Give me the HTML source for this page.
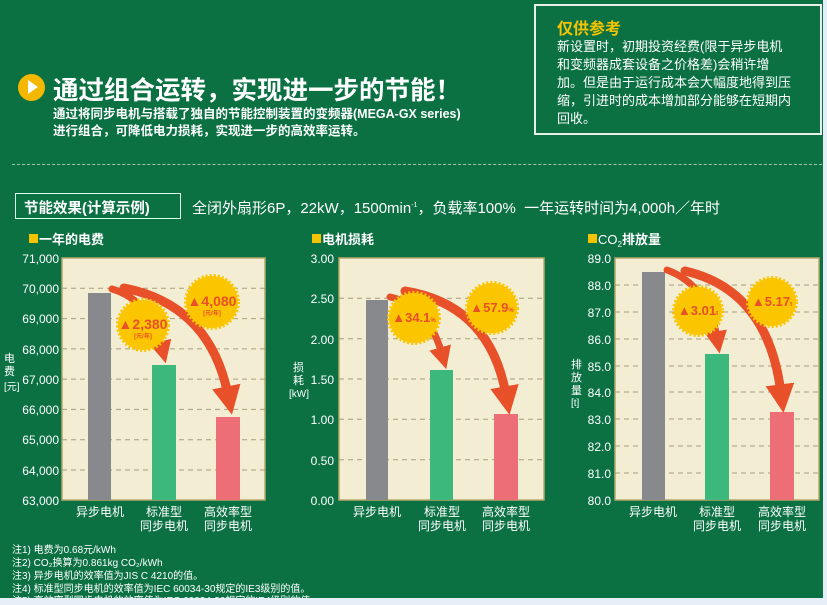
<!DOCTYPE html>
<html><head><meta charset="utf-8"><style>
body{margin:0;width:827px;height:605px;background:#e6eef8;overflow:hidden;font-family:"Liberation Sans","Noto Sans CJK SC",sans-serif;}
#g{position:absolute;left:0;top:0;width:823px;height:598px;background:#0b7143;}
.t{position:absolute;color:#fff;white-space:nowrap;}
</style></head><body>
<div id="g"></div>
<div style="position:absolute;left:534px;top:4px;width:284px;height:127px;border:2px solid #e8efe8;"></div>
<div class="t" style="left:557px;top:15px;font-size:16px;font-weight:bold;color:#f5c400;">仅供参考</div>
<div class="t" style="left:557px;top:38px;font-size:13px;line-height:18px;">新设置时，初期投资经费(限于异步电机<br>和变频器成套设备之价格差)会稍许增<br>加。但是由于运行成本会大幅度地得到压<br>缩，引进时的成本增加部分能够在短期内<br>回收。</div>
<div style="position:absolute;left:18px;top:74px;width:27px;height:27px;border-radius:50%;background:#f5b800;"></div>
<div style="position:absolute;left:28px;top:80px;border-left:10px solid #fff;border-top:7.5px solid transparent;border-bottom:7.5px solid transparent;"></div>
<div class="t" style="left:53px;top:70px;font-size:25.5px;font-weight:bold;">通过组合运转，实现进一步的节能！</div>
<div class="t" style="left:53px;top:106px;font-size:12.5px;font-weight:bold;line-height:17px;">通过将同步电机与搭载了独自的节能控制装置的变频器(MEGA-GX series)<br>进行组合，可降低电力损耗，实现进一步的高效率运转。</div>
<div style="position:absolute;left:12px;top:164px;width:810px;border-top:1px dashed #9cc4ac;"></div>
<div style="position:absolute;left:15px;top:193px;width:164px;height:24px;border:1px solid #dfe;"></div>
<div class="t" style="left:24px;top:197px;font-size:14.5px;font-weight:bold;">节能效果(计算示例)</div>
<div class="t" style="left:192px;top:197px;font-size:15px;">全闭外扇形6P，22kW，1500min<sup style="font-size:7px">-1</sup>，负载率100%&nbsp; 一年运转时间为4,000h／年时</div>
<svg width="827" height="605" style="position:absolute;left:0;top:0" font-family="Liberation Sans,Noto Sans CJK SC,sans-serif">
<defs><marker id="ah" viewBox="0 0 10 10" refX="3" refY="5" markerWidth="3.2" markerHeight="3.2" orient="auto"><path d="M0,0L10,5L0,10z" fill="#e8502a"/></marker></defs>
<g fill="#fff" font-weight="bold" font-size="13">
<rect x="29" y="234" width="9" height="9" fill="#f5c400"/><text x="39" y="244">一年的电费</text>
<rect x="312" y="234" width="9" height="9" fill="#f5c400"/><text x="322" y="244">电机损耗</text>
<rect x="588" y="234" width="9" height="9" fill="#f5c400"/><text x="598" y="244" font-weight="normal">CO<tspan font-size="8" dy="3">2</tspan><tspan dy="-3" font-weight="bold">排放量</tspan></text>
</g>
<g>
<rect x="62" y="258" width="203" height="242" fill="#f3eed3" stroke="#b8a86a" stroke-width="1.5"/>
<g stroke="#a89c7c" stroke-dasharray="5,4" stroke-width="1"><line x1="62" x2="265" y1="288.3" y2="288.3"/><line x1="62" x2="265" y1="318.6" y2="318.6"/><line x1="62" x2="265" y1="348.9" y2="348.9"/><line x1="62" x2="265" y1="379.1" y2="379.1"/><line x1="62" x2="265" y1="409.4" y2="409.4"/><line x1="62" x2="265" y1="439.7" y2="439.7"/><line x1="62" x2="265" y1="470" y2="470"/></g>
<rect x="88" y="293" width="23" height="207" fill="#88898d"/><rect x="152" y="365" width="24" height="135" fill="#3cb87c"/><rect x="216" y="417" width="24" height="83" fill="#ee6e78"/>
<g fill="#fff" font-size="12" text-anchor="end"><text x="59" y="263">71,000</text><text x="59" y="293">70,000</text><text x="59" y="323">69,000</text><text x="59" y="354">68,000</text><text x="59" y="384">67,000</text><text x="59" y="414">66,000</text><text x="59" y="444">65,000</text><text x="59" y="475">64,000</text><text x="59" y="505">63,000</text></g>
<text x="4" y="362" fill="#fff" font-size="11">电</text><text x="4" y="375" fill="#fff" font-size="11">费</text><text x="4" y="390" fill="#fff" font-size="10">[元]</text>
</g>
<g>
<rect x="339" y="258" width="205" height="242" fill="#f3eed3" stroke="#b8a86a" stroke-width="1.5"/>
<g stroke="#a89c7c" stroke-dasharray="5,4"><line x1="339" x2="544" y1="298.3" y2="298.3"/><line x1="339" x2="544" y1="338.7" y2="338.7"/><line x1="339" x2="544" y1="379" y2="379"/><line x1="339" x2="544" y1="419.3" y2="419.3"/><line x1="339" x2="544" y1="459.7" y2="459.7"/></g>
<rect x="366" y="300" width="22" height="200" fill="#88898d"/><rect x="430" y="370" width="23" height="130" fill="#3cb87c"/><rect x="494" y="414" width="24" height="86" fill="#ee6e78"/>
<g fill="#fff" font-size="12" text-anchor="end"><text x="334" y="263">3.00</text><text x="334" y="303">2.50</text><text x="334" y="344">2.00</text><text x="334" y="384">1.50</text><text x="334" y="424">1.00</text><text x="334" y="465">0.50</text><text x="334" y="505">0.00</text></g>
<text x="293" y="371" fill="#fff" font-size="11">损</text><text x="293" y="384" fill="#fff" font-size="11">耗</text><text x="289" y="397" fill="#fff" font-size="10">[kW]</text>
</g>
<g>
<rect x="615" y="258" width="204" height="242" fill="#f3eed3" stroke="#b8a86a" stroke-width="1.5"/>
<g stroke="#a89c7c" stroke-dasharray="5,4"><line x1="615" x2="819" y1="285" y2="285"/><line x1="615" x2="819" y1="312" y2="312"/><line x1="615" x2="819" y1="339" y2="339"/><line x1="615" x2="819" y1="366" y2="366"/><line x1="615" x2="819" y1="392" y2="392"/><line x1="615" x2="819" y1="419" y2="419"/><line x1="615" x2="819" y1="446" y2="446"/><line x1="615" x2="819" y1="473" y2="473"/></g>
<rect x="642" y="272" width="23" height="228" fill="#88898d"/><rect x="705" y="354" width="24" height="146" fill="#3cb87c"/><rect x="770" y="412" width="24" height="88" fill="#ee6e78"/>
<g fill="#fff" font-size="12" text-anchor="end"><text x="611" y="263">89.0</text><text x="611" y="290">88.0</text><text x="611" y="317">87.0</text><text x="611" y="344">86.0</text><text x="611" y="371">85.0</text><text x="611" y="397">84.0</text><text x="611" y="424">83.0</text><text x="611" y="451">82.0</text><text x="611" y="478">81.0</text><text x="611" y="505">80.0</text></g>
<text x="571" y="368" fill="#fff" font-size="11">排</text><text x="571" y="381" fill="#fff" font-size="11">放</text><text x="571" y="394" fill="#fff" font-size="11">量</text><text x="571" y="406" fill="#fff" font-size="10">[t]</text>
</g>
<g fill="#fff" font-size="12" text-anchor="middle">
<text x="100" y="516">异步电机</text><text x="164" y="516">标准型</text><text x="164" y="530">同步电机</text><text x="228" y="516">高效率型</text><text x="228" y="530">同步电机</text>
<text x="377" y="516">异步电机</text><text x="442" y="516">标准型</text><text x="442" y="530">同步电机</text><text x="506" y="516">高效率型</text><text x="506" y="530">同步电机</text>
<text x="653" y="516">异步电机</text><text x="717" y="516">标准型</text><text x="717" y="530">同步电机</text><text x="782" y="516">高效率型</text><text x="782" y="530">同步电机</text>
</g>
<g fill="none" stroke="#e8502a" stroke-linecap="round">
<path d="M112,289 Q150,300 162,348" stroke-width="7" marker-end="url(#ah)"/>
<path d="M124,288 Q210,305 228,395" stroke-width="9" marker-end="url(#ah)"/>
<path d="M390,297 Q428,305 442,354" stroke-width="7" marker-end="url(#ah)"/>
<path d="M405,291 Q490,305 506,395" stroke-width="9" marker-end="url(#ah)"/>
<path d="M667,270 Q708,285 717,338" stroke-width="7" marker-end="url(#ah)"/>
<path d="M685,271 Q768,290 781,393" stroke-width="9" marker-end="url(#ah)"/>
</g>
<g fill="#fbc500" stroke="#fbc500" stroke-width="4" stroke-dasharray="2,2">
<circle cx="143" cy="325" r="25"/><circle cx="212" cy="302" r="26"/>
<circle cx="414" cy="318" r="25"/><circle cx="492" cy="308" r="25"/>
<circle cx="698" cy="311" r="24"/><circle cx="772" cy="302" r="24"/>
</g>
<g fill="#e8502a" font-weight="bold" text-anchor="middle">
<text x="143" y="329" font-size="14">▲2,380</text><text x="143" y="338" font-size="6">[元/年]</text>
<text x="212" y="306" font-size="14">▲4,080</text><text x="212" y="315" font-size="6">[元/年]</text>
<text x="414" y="322" font-size="13">▲34.1<tspan font-size="6">%</tspan></text>
<text x="492" y="312" font-size="13">▲57.9<tspan font-size="6">%</tspan></text>
<text x="698" y="315" font-size="13">▲3.01<tspan font-size="6">t</tspan></text>
<text x="772" y="306" font-size="13">▲5.17<tspan font-size="6">t</tspan></text>
</g>
<g fill="#fff" font-size="10">
<text x="12" y="553">注1) 电费为0.68元/kWh</text>
<text x="12" y="566">注2) CO₂换算为0.861kg CO₂/kWh</text>
<text x="12" y="579">注3) 异步电机的效率值为JIS C 4210的值。</text>
<text x="12" y="592">注4) 标准型同步电机的效率值为IEC 60034-30规定的IE3级别的值。</text>
<text x="12" y="604">注5) 高效率型同步电机的效率值为IEC 60034-30规定的IE4级别的值。</text>
</g>
</svg>
<div style="position:absolute;left:0;top:598px;width:827px;height:7px;background:#e6eef8;"></div>
</body></html>
